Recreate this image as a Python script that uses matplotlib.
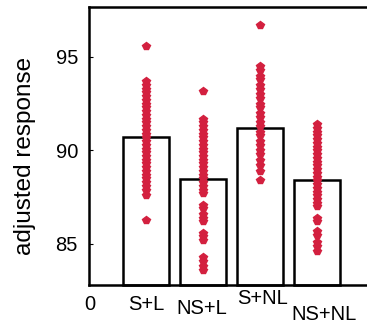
import numpy as np
import matplotlib
matplotlib.use("Agg")
import matplotlib.pyplot as plt

# =============================
# Data
# =============================

groups = ["S+L", "NS+L", "S+NL", "NS+NL"]
group_means = [90.7, 88.46, 91.19, 88.42]
baseline = 82.8

s_l = [95.6, 93.7, 93.5, 93.3, 93.1, 92.9, 92.7, 92.5, 92.3, 92.1, 91.9, 91.7,
       91.5, 91.3, 91.1, 90.9, 90.7, 90.5, 90.3, 90.1, 89.9, 89.7, 89.5, 89.3,
       89.1, 88.9, 88.7, 88.5, 88.3, 88.1, 87.9, 87.6, 86.3]
ns_l = [93.2, 91.7, 91.5, 91.3, 91.1, 90.9, 90.7, 90.5, 90.3, 90.1, 89.9, 89.7,
        89.5, 89.3, 89.1, 88.9, 88.7, 88.5, 88.3, 88.1, 87.9, 87.7, 87.1, 86.9,
        86.6, 86.4, 86.2, 85.6, 85.4, 85.2, 84.3, 84.1, 83.8, 83.6]
s_nl = [96.7, 94.5, 94.3, 94.0, 93.8, 93.5, 93.3, 93.0, 92.8, 92.5, 92.3, 92.0,
        91.8, 91.5, 91.3, 91.0, 90.8, 90.5, 90.3, 90.0, 89.8, 89.5, 89.2, 88.9,
        88.4]
ns_nl = [91.4, 91.2, 91.0, 90.8, 90.6, 90.4, 90.2, 90.0, 89.8, 89.6, 89.4, 89.2,
         89.0, 88.8, 88.6, 88.4, 88.2, 88.0, 87.8, 87.6, 87.4, 87.2, 87.0, 86.4,
         86.2, 85.7, 85.5, 85.1, 84.9, 84.6]
points = [s_l, ns_l, s_nl, ns_nl]

tick_labels = ["0"] + groups

# =============================
# Figure
# =============================

plt.rcParams["font.family"] = ["Liberation Sans", "DejaVu Sans"]

fig = plt.figure(figsize=(3.67, 3.25), dpi=100)
ax = fig.add_axes([89/367, 40/325, 1 - 89/367, 278/325])

pos = np.arange(1, len(groups) + 1)

# outline bars, MATLAB "hist" style
ax.bar(pos, np.array(group_means) - baseline, bottom=baseline, width=0.82,
       fill=False, edgecolor="black", linewidth=1.8, clip_on=False, zorder=2)
ax.axhline(baseline, color="black", linewidth=1.8, clip_on=False, zorder=2)

red = "#d3203f"
for p, vals in zip(pos, points):
    ax.plot(np.full(len(vals), p), vals, linestyle="none", marker="p",
            markersize=6, color=red, markeredgecolor=red, zorder=3)

ax.set_xlim(0, 278/57)
ax.set_ylim(baseline, 97.67)

ax.spines["right"].set_visible(False)
ax.spines["bottom"].set_visible(False)
ax.spines["top"].set_linewidth(1.8)
ax.spines["left"].set_linewidth(1.8)

ax.set_yticks([85, 90, 95])
ax.tick_params(axis="y", direction="in", length=3, pad=8, labelsize=14.5)
ax.set_xticks([])

# staggered x labels as in the original
label_dx = [1, 0, -1, 3, 7]
label_dy = [20, 20, 24, 14, 29]
for x, lab, dx, dy in zip(range(len(tick_labels)), tick_labels, label_dx, label_dy):
    ax.annotate(lab, xy=(x, 0), xycoords=("data", "axes fraction"),
                xytext=(dx * 0.72, -dy * 0.72), textcoords="offset points",
                ha="center", va="center", fontsize=14.5, annotation_clip=False)

fig.text(25/367, 1 - 156/325, "adjusted response", rotation=90,
         ha="center", va="center", fontsize=17.5)

fig.savefig("out.png", dpi=100)
